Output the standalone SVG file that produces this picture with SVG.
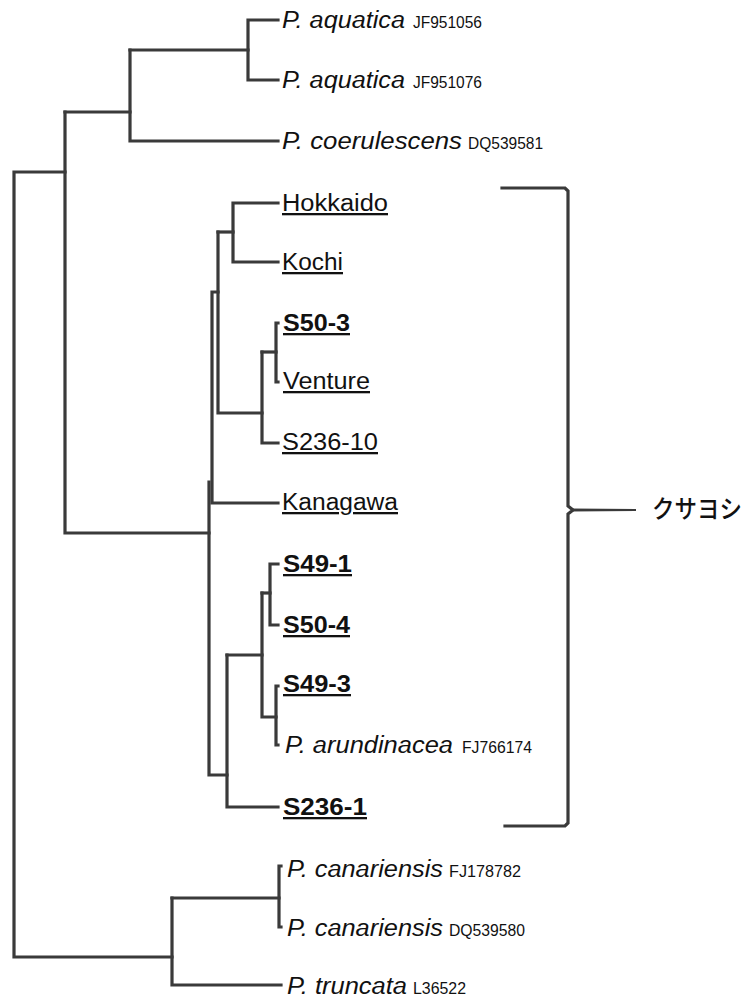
<svg xmlns="http://www.w3.org/2000/svg" width="753" height="1003" viewBox="0 0 753 1003">
  <style>
    .br { fill: none; stroke: #3a3a3a; stroke-width: 3.2; stroke-linejoin: miter; stroke-linecap: square; }
    .lab { font-family: "Liberation Sans", Arial, sans-serif; font-size: 23px; fill: #111; }
    .sp { font-style: italic; }
    .iso { text-decoration: underline; }
    .b { font-weight: bold; }
    .acc { font-family: "Liberation Sans", Arial, sans-serif; font-size: 16px; fill: #111; font-style: normal; font-weight: normal; }
    .jp { font-family: "Noto Sans CJK JP", "Liberation Sans", sans-serif; font-size: 25px; font-weight: 500; fill: #111; }
  </style>
  <rect width="753" height="1003" fill="#fff"/>

  <!-- tree branches -->
  <g id="connectors">
    <!-- root -->
    <path class="br" d="M65,172 H14 V957 H172"/>
    <!-- outgroup: P. aquatica / P. coerulescens -->
    <path class="br" d="M65,112 H130"/>
    <path class="br" d="M130,50 V141 H278"/>
    <path class="br" d="M130,50 H248"/>
    <path class="br" d="M278,20 H248 V80 H278"/>
    <!-- main clade stem -->
    <path class="br" d="M65,112 V533 H209"/>
    <!-- Hokkaido / Kochi -->
    <path class="br" d="M278,203 H233 V262 H278"/>
    <path class="br" d="M218,232 H233"/>
    <path class="br" d="M218,232 V413 H262"/>
    <!-- S50-3 / Venture / S236-10 -->
    <path class="br" d="M262,352 V443 H278"/>
    <path class="br" d="M262,352 H276"/>
    <path class="br" d="M278,323 H276 V382 H278"/>
    <!-- node joining upper subclade and Kanagawa -->
    <path class="br" d="M218,292 H212 V503 H278"/>
    <path class="br" d="M209,482 V775 H227"/>
    <!-- lower subclade -->
    <path class="br" d="M227,655 V807 H278"/>
    <path class="br" d="M227,655 H262"/>
    <path class="br" d="M262,593 V717 H276"/>
    <path class="br" d="M262,593 H270"/>
    <path class="br" d="M278,564 H270 V625 H278"/>
    <path class="br" d="M278,686 H276 V745 H278"/>
    <!-- P. canariensis / P. truncata -->
    <path class="br" d="M172,898 V985 H281"/>
    <path class="br" d="M172,898 H279"/>
    <path class="br" d="M281,866 H279 V927 H281"/>
  </g>

  <!-- leaf labels -->
  <g id="n-aquatica-1"><text class="lab sp" x="282" y="28" textLength="123" lengthAdjust="spacingAndGlyphs">P. aquatica</text><text class="acc" x="413" y="28" textLength="69" lengthAdjust="spacingAndGlyphs">JF951056</text></g>
  <g id="n-aquatica-2"><text class="lab sp" x="282" y="88" textLength="123" lengthAdjust="spacingAndGlyphs">P. aquatica</text><text class="acc" x="413" y="88" textLength="69" lengthAdjust="spacingAndGlyphs">JF951076</text></g>
  <g id="n-coerulescens"><text class="lab sp" x="282" y="149" textLength="180" lengthAdjust="spacingAndGlyphs">P. coerulescens</text><text class="acc" x="468" y="149" textLength="75" lengthAdjust="spacingAndGlyphs">DQ539581</text></g>

  <g id="n-hokkaido"><text class="lab iso" x="282" y="211" textLength="106" lengthAdjust="spacingAndGlyphs">Hokkaido</text></g>
  <g id="n-kochi"><text class="lab iso" x="282" y="270" textLength="61" lengthAdjust="spacingAndGlyphs">Kochi</text></g>
  <g id="n-s50-3"><text class="lab iso b" x="283" y="331" textLength="67" lengthAdjust="spacingAndGlyphs">S50-3</text></g>
  <g id="n-venture"><text class="lab iso" x="283" y="389" textLength="87" lengthAdjust="spacingAndGlyphs">Venture</text></g>
  <g id="n-s236-10"><text class="lab iso" x="282" y="450" textLength="96" lengthAdjust="spacingAndGlyphs">S236-10</text></g>
  <g id="n-kanagawa"><text class="lab iso" x="282" y="510" textLength="116" lengthAdjust="spacingAndGlyphs">Kanagawa</text></g>
  <g id="n-s49-1"><text class="lab iso b" x="283" y="572" textLength="69" lengthAdjust="spacingAndGlyphs">S49-1</text></g>
  <g id="n-s50-4"><text class="lab iso b" x="283" y="633" textLength="67" lengthAdjust="spacingAndGlyphs">S50-4</text></g>
  <g id="n-s49-3"><text class="lab iso b" x="283" y="692" textLength="68" lengthAdjust="spacingAndGlyphs">S49-3</text></g>
  <g id="n-arundinacea"><text class="lab sp" x="285" y="753" textLength="168" lengthAdjust="spacingAndGlyphs">P. arundinacea</text><text class="acc" x="462" y="753" textLength="70" lengthAdjust="spacingAndGlyphs">FJ766174</text></g>
  <g id="n-s236-1"><text class="lab iso b" x="283" y="815" textLength="84" lengthAdjust="spacingAndGlyphs">S236-1</text></g>

  <g id="n-canariensis-1"><text class="lab sp" x="287" y="877" textLength="156" lengthAdjust="spacingAndGlyphs">P. canariensis</text><text class="acc" x="449" y="877" textLength="72" lengthAdjust="spacingAndGlyphs">FJ178782</text></g>
  <g id="n-canariensis-2"><text class="lab sp" x="287" y="936" textLength="156" lengthAdjust="spacingAndGlyphs">P. canariensis</text><text class="acc" x="449" y="936" textLength="76" lengthAdjust="spacingAndGlyphs">DQ539580</text></g>
  <g id="n-truncata"><text class="lab sp" x="287" y="994" textLength="120" lengthAdjust="spacingAndGlyphs">P. truncata</text><text class="acc" x="413" y="994" textLength="53" lengthAdjust="spacingAndGlyphs">L36522</text></g>

  <!-- clade bracket -->
  <g id="clade-kusayoshi">
    <path class="br" d="M502,188 H565 L568,191 V506 L573,510 L568,514 V823 L565,826 H505"/>
    <path d="M571,508.5 L636,509 L636,511 L571,511.5 Z" fill="#3a3a3a"/>
    <text class="jp" x="652" y="518" textLength="90" lengthAdjust="spacingAndGlyphs">クサヨシ</text>
  </g>
</svg>
